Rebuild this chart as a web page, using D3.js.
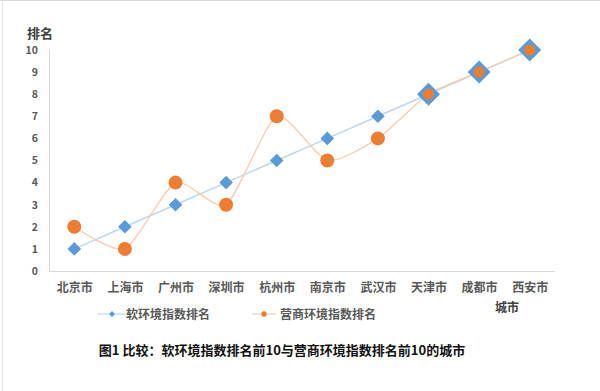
<!DOCTYPE html>
<html><head><meta charset="utf-8">
<script src="https://cdn.jsdelivr.net/npm/d3@7"></script>
<style>body{margin:0;background:#fff}svg{display:block}</style>
</head><body>
<script>
const cities = ["北京市","上海市","广州市","深圳市","杭州市","南京市","武汉市","天津市","成都市","西安市"];
const softRank = [1,2,3,4,5,6,7,8,9,10];
const bizRank = [2,1,4,3,7,5,6,8,9,10];
const yTicks = [0,1,2,3,4,5,6,7,8,9,10];
const seriesNames = ["软环境指数排名","营商环境指数排名"];
const yTitle = "排名";
const xTitle = "城市";
const caption = "图1  比较：软环境指数排名前10与营商环境指数排名前10的城市";

const W=600,H=391;
const svg=d3.select("body").append("svg").attr("width",W).attr("height",H);
const font='"Noto Sans CJK SC","Noto Sans",sans-serif';
const gray="#595959";
// frame
svg.append("line").attr("x1",0).attr("x2",W).attr("y1",0.5).attr("y2",0.5).attr("stroke","#d9d9d9");
svg.append("line").attr("x1",2.5).attr("x2",2.5).attr("y1",0).attr("y2",H).attr("stroke","#e6e6e6");

const x=d3.scalePoint().domain(cities).range([49,555]).padding(0.5);
const y=d3.scaleLinear().domain([0,10]).range([271,50]);

// axes lines
svg.append("line").attr("x1",49.5).attr("x2",49.5).attr("y1",y(10)).attr("y2",y(0)).attr("stroke","#d9d9d9");
svg.append("line").attr("x1",49).attr("x2",555).attr("y1",y(0)+0.5).attr("y2",y(0)+0.5).attr("stroke","#d9d9d9");

const yAxis=d3.axisLeft(y).tickValues(yTicks).tickSize(0).tickPadding(0).tickFormat(d3.format("d"));
const gy=svg.append("g").attr("transform","translate(38,0)").call(yAxis);
gy.select(".domain").remove();
gy.selectAll("text").attr("font-family",font).attr("font-size",10.5).attr("font-weight","bold").attr("fill",gray);

const xAxis=d3.axisBottom(x).tickSize(0).tickPadding(0);
const gx=svg.append("g").attr("transform",`translate(0,${y(0)+12})`).call(xAxis);
gx.select(".domain").remove();
gx.selectAll("text").attr("font-family",font).attr("font-size",12).attr("font-weight","bold").attr("fill",gray);

svg.append("text").attr("x",40).attr("y",38).attr("text-anchor","middle").attr("font-family",font).attr("font-size",13).attr("font-weight","bold").attr("fill","#404040").text(yTitle);
svg.append("text").attr("x",507).attr("y",312).attr("text-anchor","middle").attr("font-family",font).attr("font-size",12).attr("font-weight","bold").attr("fill","#404040").text(xTitle);

const blue="#5b9bd5", orange="#ed7d31";
const softPts=cities.map((c,i)=>[x(c),y(softRank[i])]);
const bizPts=cities.map((c,i)=>[x(c),y(bizRank[i])]);
svg.append("path").attr("d",d3.line()(softPts)).attr("fill","none").attr("stroke","#bdd7ee").attr("stroke-width",1.5);
svg.append("path").attr("d",d3.line().curve(d3.curveCardinal.tension(0.35))(bizPts)).attr("fill","none").attr("stroke","#f8cbad").attr("stroke-width",1.3);

const diamond=(cx,cy,r)=>`M${cx},${cy-r}L${cx+r},${cy}L${cx},${cy+r}L${cx-r},${cy}Z`;
cities.forEach((c,i)=>{
  const same=softRank[i]===bizRank[i];
  svg.append("path").attr("d",diamond(x(c),y(softRank[i]),same?11.5:6.8)).attr("fill",blue);
});
cities.forEach((c,i)=>{
  const same=softRank[i]===bizRank[i];
  svg.append("circle").attr("cx",x(c)).attr("cy",y(bizRank[i])).attr("r",same?5.5:7).attr("fill",orange);
});

// legend
const ly=314;
svg.append("line").attr("x1",98).attr("x2",126).attr("y1",ly).attr("y2",ly).attr("stroke","#bdd7ee").attr("stroke-width",1.2);
svg.append("path").attr("d",diamond(112,ly,3)).attr("fill",blue);
svg.append("text").attr("x",126).attr("y",ly+4.5).attr("font-family",font).attr("font-size",12).attr("font-weight","bold").attr("fill",gray).text(seriesNames[0]);
svg.append("line").attr("x1",252).attr("x2",276).attr("y1",ly).attr("y2",ly).attr("stroke","#f8cbad").attr("stroke-width",1.1);
svg.append("circle").attr("cx",264).attr("cy",ly).attr("r",2.7).attr("fill",orange);
svg.append("text").attr("x",280).attr("y",ly+4.5).attr("font-family",font).attr("font-size",12).attr("font-weight","bold").attr("fill",gray).text(seriesNames[1]);

svg.append("text").attr("x",282).attr("y",355).attr("text-anchor","middle").attr("font-family",font).attr("font-size",13).attr("font-weight","bold").attr("fill","#111").text(caption);
</script>
</body></html>
